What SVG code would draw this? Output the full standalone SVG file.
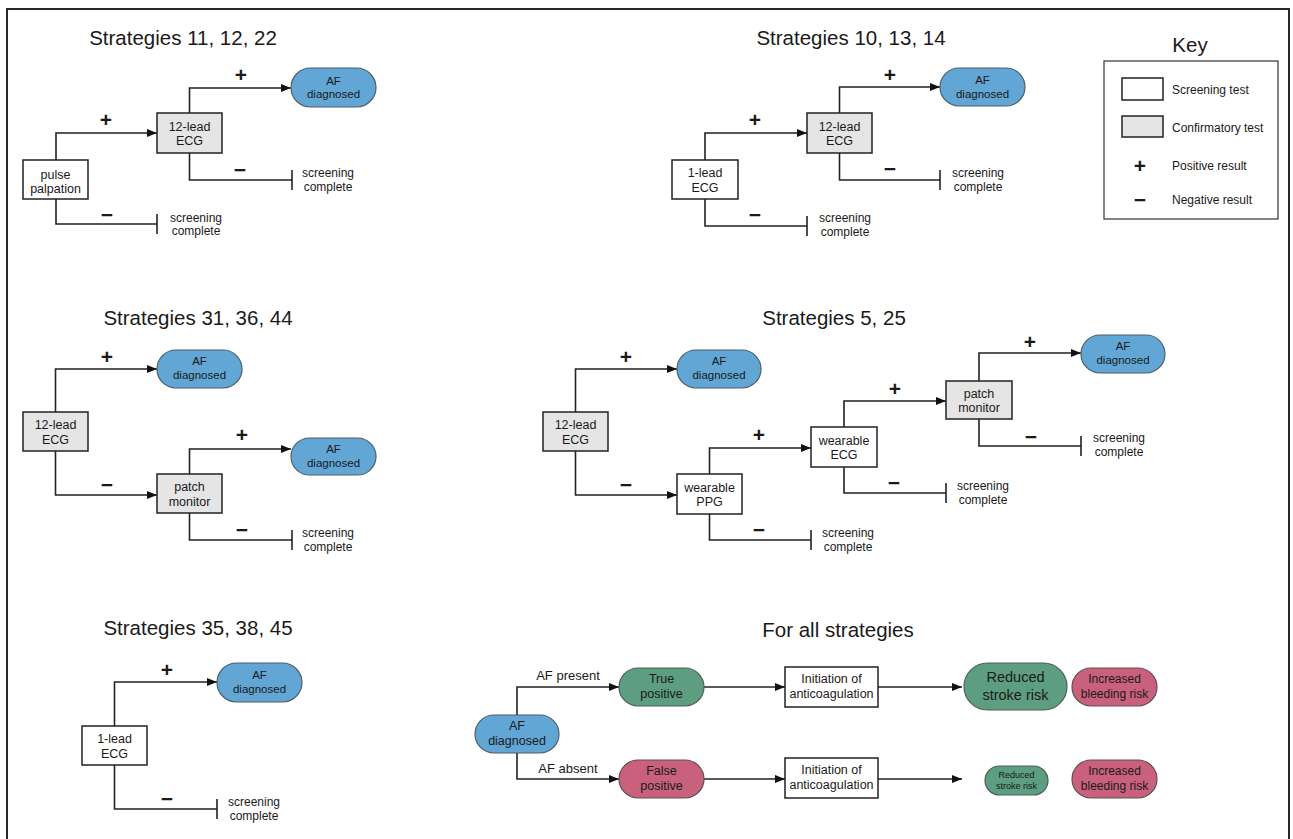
<svg xmlns="http://www.w3.org/2000/svg" width="1293" height="839" viewBox="0 0 1293 839">
<style>
text{font-family:"Liberation Sans",Arial,sans-serif;fill:#1a1a1a;text-anchor:middle}
.ttl{font-size:20.5px}
.bx{font-size:12.5px}
.pl{font-size:11.5px}
.sc{font-size:12px}
.kl{font-size:12px;text-anchor:start}
.pm{font-size:21px;font-weight:bold}
.scr{fill:#fff;stroke:#222;stroke-width:1.5}
.cnf{fill:#e5e5e5;stroke:#222;stroke-width:1.5}
.blue{fill:#61a6d5;stroke:#4f5f6b;stroke-width:1.2}
.grn{fill:#5e9e80;stroke:#4f5f58;stroke-width:1.2}
.pnk{fill:#c9617d;stroke:#5f4f55;stroke-width:1.2}
.ln{fill:none;stroke:#222;stroke-width:1.6}
.ar{marker-end:url(#arr)}
</style>
<defs>
<marker id="arr" markerUnits="userSpaceOnUse" markerWidth="10" markerHeight="8" refX="10" refY="4" orient="auto">
<path d="M0,0 L10,4 L0,8 z" fill="#111"/>
</marker>
</defs>
<rect x="7" y="9" width="1282" height="842" fill="#fff" stroke="#2a2a2a" stroke-width="2"/>

<g id="titles">
<text class="ttl" x="183" y="45">Strategies 11, 12, 22</text>
<text class="ttl" x="851" y="45">Strategies 10, 13, 14</text>
<text class="ttl" x="1190" y="52">Key</text>
<text class="ttl" x="198" y="325">Strategies 31, 36, 44</text>
<text class="ttl" x="834" y="325">Strategies 5, 25</text>
<text class="ttl" x="198" y="635">Strategies 35, 38, 45</text>
<text class="ttl" x="838" y="637">For all strategies</text>
</g>

<g id="connectors">
<!-- A -->
<path class="ln ar" d="M56,160 V133 H157"/>
<path class="ln ar" d="M189.5,113 V88 H291"/>
<path class="ln" d="M189.5,153 V180 H292 M292,170 V190"/>
<path class="ln" d="M56,199 V224 H157 M157,214 V234"/>
<!-- B -->
<path class="ln ar" d="M705,160 V133 H807"/>
<path class="ln ar" d="M839.5,113 V87 H940"/>
<path class="ln" d="M839.5,153 V180 H940 M940,170 V190"/>
<path class="ln" d="M705,199 V226 H807 M807,216 V236"/>
<!-- C -->
<path class="ln ar" d="M55.5,412 V369 H157"/>
<path class="ln ar" d="M55.5,451 V495 H157"/>
<path class="ln ar" d="M189.5,474 V449 H291"/>
<path class="ln" d="M189.5,513 V540 H292 M292,530 V550"/>
<!-- D -->
<path class="ln ar" d="M575.5,412 V369 H677"/>
<path class="ln ar" d="M575.5,451 V495 H677"/>
<path class="ln ar" d="M709.5,474 V448 H811"/>
<path class="ln" d="M709.5,514 V540 H811 M811,530 V550"/>
<path class="ln ar" d="M844,427 V401 H946"/>
<path class="ln" d="M844,467 V493 H946 M946,483 V503"/>
<path class="ln ar" d="M979,381 V353 H1081"/>
<path class="ln" d="M979,419 V446 H1081 M1081,436 V456"/>
<!-- E -->
<path class="ln ar" d="M114.5,726 V682 H217"/>
<path class="ln" d="M114.5,765 V809 H217 M217,799 V819"/>
<!-- All -->
<path class="ln ar" d="M517,715 V687 H619"/>
<path class="ln ar" d="M517,753 V779 H619"/>
<path class="ln ar" d="M704,687 H785"/>
<path class="ln ar" d="M704,779 H785"/>
<path class="ln ar" d="M878,687 H962"/>
<path class="ln ar" d="M878,779 H962"/>
</g>

<g id="edge-labels">
<text class="pm" x="106" y="127">+</text>
<text class="pm" x="241" y="82">+</text>
<text class="pm" x="240" y="177">−</text>
<text class="pm" x="107" y="222">−</text>
<text class="pm" x="755" y="127">+</text>
<text class="pm" x="890" y="82">+</text>
<text class="pm" x="890" y="176">−</text>
<text class="pm" x="755" y="222">−</text>
<text class="pm" x="107" y="364">+</text>
<text class="pm" x="107" y="492">−</text>
<text class="pm" x="242" y="442">+</text>
<text class="pm" x="242" y="537">−</text>
<text class="pm" x="626" y="364">+</text>
<text class="pm" x="626" y="492">−</text>
<text class="pm" x="759" y="442">+</text>
<text class="pm" x="759" y="537">−</text>
<text class="pm" x="895" y="396">+</text>
<text class="pm" x="894" y="490">−</text>
<text class="pm" x="1030" y="349">+</text>
<text class="pm" x="1031" y="444">−</text>
<text class="pm" x="167" y="677">+</text>
<text class="pm" x="167" y="806">−</text>
<text style="font-size:13px" x="568" y="680">AF present</text>
<text style="font-size:13px" x="568" y="773">AF absent</text>
</g>

<!-- Strategy A -->
<g id="a-pulse"><rect class="scr" x="23" y="160" width="65" height="39"/><text class="bx" x="55.5" y="179">pulse</text><text class="bx" x="55.5" y="193">palpation</text></g>
<g id="a-12lead"><rect class="cnf" x="157" y="113" width="65" height="40"/><text class="bx" x="189.5" y="130.5">12-lead</text><text class="bx" x="189.5" y="145">ECG</text></g>
<g id="a-af"><rect class="blue" x="291" y="68" width="85" height="39" rx="19.5"/><text class="pl" x="333.5" y="84.5">AF</text><text class="pl" x="333.5" y="98">diagnosed</text></g>
<g id="a-sc1"><text class="sc" x="328" y="177">screening</text><text class="sc" x="328" y="191">complete</text></g>
<g id="a-sc2"><text class="sc" x="196" y="222">screening</text><text class="sc" x="196" y="235">complete</text></g>

<!-- Strategy B -->
<g id="b-1lead"><rect class="scr" x="672" y="160" width="66" height="39"/><text class="bx" x="705" y="177">1-lead</text><text class="bx" x="705" y="191.5">ECG</text></g>
<g id="b-12lead"><rect class="cnf" x="807" y="113" width="65" height="40"/><text class="bx" x="839.5" y="130.5">12-lead</text><text class="bx" x="839.5" y="145">ECG</text></g>
<g id="b-af"><rect class="blue" x="940" y="68" width="85" height="38" rx="19"/><text class="pl" x="982.5" y="84">AF</text><text class="pl" x="982.5" y="97.5">diagnosed</text></g>
<g id="b-sc1"><text class="sc" x="978" y="177">screening</text><text class="sc" x="978" y="191">complete</text></g>
<g id="b-sc2"><text class="sc" x="845" y="222">screening</text><text class="sc" x="845" y="236">complete</text></g>

<!-- Key -->
<g id="key">
<rect x="1104" y="61" width="174" height="158" fill="#fff" stroke="#333" stroke-width="1.2"/>
<rect class="scr" x="1122" y="78" width="41" height="22"/>
<rect class="cnf" x="1122" y="116" width="41" height="21"/>
<text class="pm" x="1140" y="173">+</text>
<text class="pm" x="1140" y="207">−</text>
<text class="kl" x="1172" y="94">Screening test</text>
<text class="kl" x="1172" y="132">Confirmatory test</text>
<text class="kl" x="1172" y="170">Positive result</text>
<text class="kl" x="1172" y="204">Negative result</text>
</g>

<!-- Strategy C -->
<g id="c-12lead"><rect class="cnf" x="23" y="412" width="65" height="39"/><text class="bx" x="55.5" y="429">12-lead</text><text class="bx" x="55.5" y="443.5">ECG</text></g>
<g id="c-af1"><rect class="blue" x="157" y="350" width="85" height="38" rx="19"/><text class="pl" x="199.5" y="365">AF</text><text class="pl" x="199.5" y="379">diagnosed</text></g>
<g id="c-patch"><rect class="cnf" x="157" y="474" width="65" height="39"/><text class="bx" x="189.5" y="491">patch</text><text class="bx" x="189.5" y="505.5">monitor</text></g>
<g id="c-af2"><rect class="blue" x="291" y="438" width="85" height="37" rx="18.5"/><text class="pl" x="333.5" y="453">AF</text><text class="pl" x="333.5" y="467">diagnosed</text></g>
<g id="c-sc"><text class="sc" x="328" y="537">screening</text><text class="sc" x="328" y="551">complete</text></g>

<!-- Strategy D -->
<g id="d-12lead"><rect class="cnf" x="543" y="412" width="65" height="39"/><text class="bx" x="575.5" y="429">12-lead</text><text class="bx" x="575.5" y="443.5">ECG</text></g>
<g id="d-af1"><rect class="blue" x="677" y="350" width="84" height="38" rx="19"/><text class="pl" x="719" y="365">AF</text><text class="pl" x="719" y="379">diagnosed</text></g>
<g id="d-ppg"><rect class="scr" x="677" y="474" width="65" height="40"/><text class="bx" x="709.5" y="491.5">wearable</text><text class="bx" x="709.5" y="506">PPG</text></g>
<g id="d-wecg"><rect class="scr" x="811" y="427" width="66" height="40"/><text class="bx" x="844" y="444.5">wearable</text><text class="bx" x="844" y="459">ECG</text></g>
<g id="d-patch"><rect class="cnf" x="946" y="381" width="66" height="38"/><text class="bx" x="979" y="397.5">patch</text><text class="bx" x="979" y="412">monitor</text></g>
<g id="d-af2"><rect class="blue" x="1081" y="335" width="84" height="38" rx="19"/><text class="pl" x="1123" y="350">AF</text><text class="pl" x="1123" y="364">diagnosed</text></g>
<g id="d-sc1"><text class="sc" x="848" y="537">screening</text><text class="sc" x="848" y="551">complete</text></g>
<g id="d-sc2"><text class="sc" x="983" y="490">screening</text><text class="sc" x="983" y="504">complete</text></g>
<g id="d-sc3"><text class="sc" x="1119" y="442">screening</text><text class="sc" x="1119" y="456">complete</text></g>

<!-- Strategy E -->
<g id="e-1lead"><rect class="scr" x="82" y="726" width="65" height="39"/><text class="bx" x="114.5" y="743">1-lead</text><text class="bx" x="114.5" y="757.5">ECG</text></g>
<g id="e-af"><rect class="blue" x="217" y="663" width="85" height="39" rx="19.5"/><text class="pl" x="259.5" y="679">AF</text><text class="pl" x="259.5" y="692.5">diagnosed</text></g>
<g id="e-sc"><text class="sc" x="254" y="806">screening</text><text class="sc" x="254" y="820">complete</text></g>

<!-- For all strategies -->
<g id="f-af"><rect class="blue" x="475" y="715" width="84" height="38" rx="19"/><text style="font-size:12.5px" x="517" y="730">AF</text><text style="font-size:12.5px" x="517" y="745">diagnosed</text></g>
<g id="f-tp"><rect class="grn" x="619" y="668" width="85" height="38" rx="19"/><text style="font-size:12.5px" x="661.5" y="683">True</text><text style="font-size:12.5px" x="661.5" y="698">positive</text></g>
<g id="f-fp"><rect class="pnk" x="619" y="760" width="85" height="38" rx="19"/><text style="font-size:12.5px" x="661.5" y="775">False</text><text style="font-size:12.5px" x="661.5" y="790">positive</text></g>
<g id="f-init1"><rect class="scr" x="785" y="667" width="93" height="40"/><text style="font-size:12.5px" x="831.5" y="683">Initiation of</text><text style="font-size:12.5px" x="831.5" y="698">anticoagulation</text></g>
<g id="f-init2"><rect class="scr" x="785" y="758" width="93" height="40"/><text style="font-size:12.5px" x="831.5" y="774">Initiation of</text><text style="font-size:12.5px" x="831.5" y="789">anticoagulation</text></g>
<g id="f-rsr1"><rect class="grn" x="964" y="663" width="103" height="47" rx="23.5"/><text style="font-size:14.5px" x="1015.5" y="682">Reduced</text><text style="font-size:14.5px" x="1015.5" y="700">stroke risk</text></g>
<g id="f-ibr1"><rect class="pnk" x="1072" y="668" width="85" height="38" rx="19"/><text class="sc" x="1114.5" y="683">Increased</text><text class="sc" x="1114.5" y="698">bleeding risk</text></g>
<g id="f-rsr2"><rect class="grn" x="985" y="766" width="63" height="29" rx="14.5"/><text style="font-size:9px" x="1016.5" y="777.5">Reduced</text><text style="font-size:9px" x="1016.5" y="788.5">stroke risk</text></g>
<g id="f-ibr2"><rect class="pnk" x="1072" y="760" width="85" height="38" rx="19"/><text class="sc" x="1114.5" y="775">Increased</text><text class="sc" x="1114.5" y="790">bleeding risk</text></g>
</svg>
